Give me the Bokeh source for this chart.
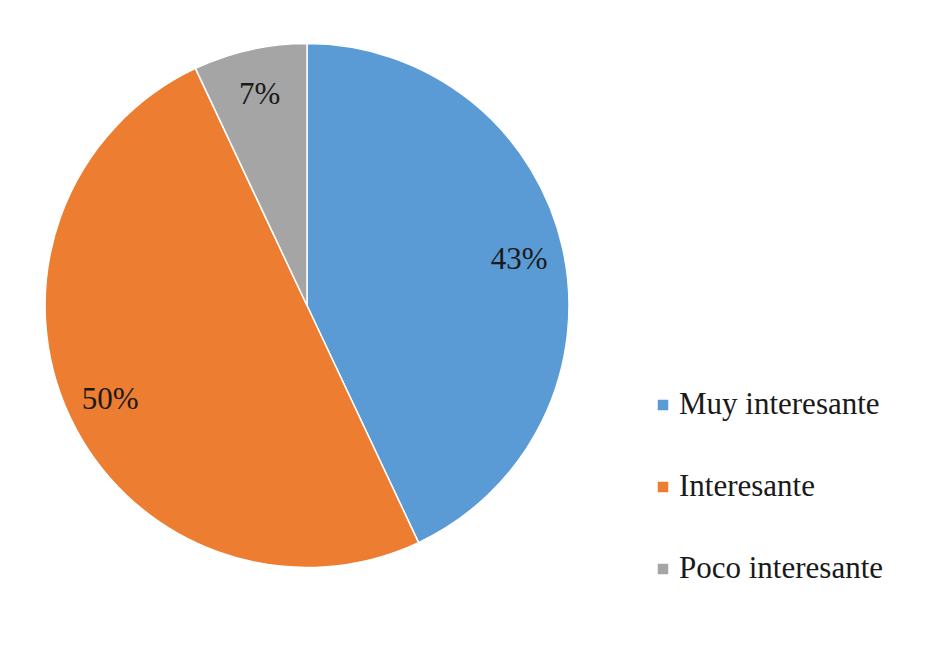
import math
from bokeh.plotting import figure
from bokeh.models import ColumnDataSource, Range1d, Legend, LegendItem
from bokeh.core.properties import value
from bokeh.embed import file_html
from bokeh.resources import INLINE

categories = ["Muy interesante", "Interesante", "Poco interesante"]
shares = [43, 50, 7]
labels = ["43%", "50%", "7%"]
colors = ["#5B9BD5", "#ED7D31", "#A5A5A5"]

SERIF = "Liberation Serif"

W, H = 918, 646
p = figure(width=W, height=H, output_backend="svg", toolbar_location=None,
           x_range=Range1d(0, W), y_range=Range1d(662 - H, 662), min_border=0)
p.axis.visible = False
p.grid.visible = False
p.outline_line_color = None
p.background_fill_color = "white"
p.border_fill_color = "white"

cx, cy, r = 306.5, 662 - 305, 262
total = float(sum(shares))
starts, ends, lx, ly = [], [], [], []
acc = 0.0
for s in shares:
    a0 = math.pi / 2 - 2 * math.pi * (acc + s) / total
    a1 = math.pi / 2 - 2 * math.pi * acc / total
    starts.append(a0)
    ends.append(a1)
    mid = (a0 + a1) / 2
    lx.append(cx + 0.83 * r * math.cos(mid))
    ly.append(cy + 0.83 * r * math.sin(mid))
    acc += s

src = ColumnDataSource(dict(cat=categories, start=starts, end=ends, color=colors,
                            lx=lx, ly=ly, lab=labels))
w = p.wedge(x=cx, y=cy, radius=r, start_angle="start", end_angle="end",
            fill_color="color", line_color="white", line_width=1.5, source=src)

p.text(x="lx", y="ly", text="lab", source=src, text_font=value(SERIF),
       text_font_size="31px", text_align="center", text_baseline="middle",
       text_color="#1a1a1a")

items = [LegendItem(label=c, renderers=[w], index=i) for i, c in enumerate(categories)]
legend = Legend(items=items, location=(655, 60), orientation="vertical",
                label_text_font=SERIF, label_text_font_size="31px",
                label_text_color="#1a1a1a",
                glyph_width=15, glyph_height=15, label_standoff=9, spacing=46,
                padding=0, margin=0, border_line_color=None, background_fill_alpha=0)
p.add_layout(legend, "center")

open("out.html", "w").write(file_html(p, INLINE))
